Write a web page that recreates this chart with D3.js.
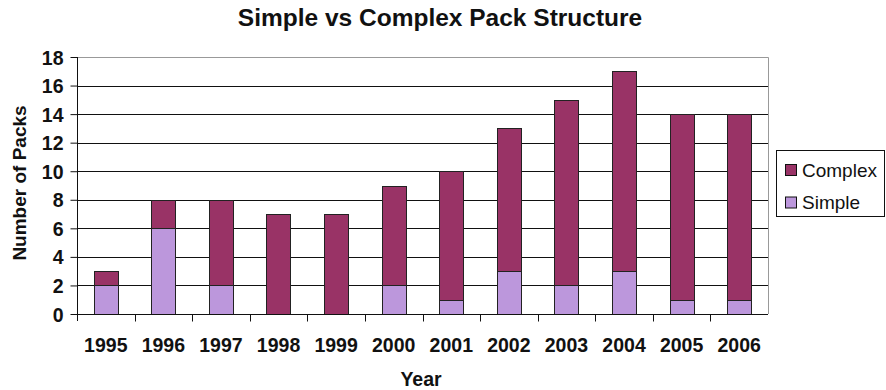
<!DOCTYPE html>
<html>
<head>
<meta charset="utf-8">
<script src="https://cdn.jsdelivr.net/npm/d3@7"></script>
<style>
  body { margin: 0; background: #fff; }
  svg text { font-family: "Liberation Sans", Arial, sans-serif; fill: #111; }
</style>
</head>
<body>
<svg id="chart" width="886" height="390"></svg>
<script>
// Pack counts per year, split by structure type
const years = ["1995","1996","1997","1998","1999","2000","2001","2002","2003","2004","2005","2006"];
const simple  = [2, 6, 2, 0, 0, 2, 1, 3, 2, 3, 1, 1];
const complex = [1, 2, 6, 7, 7, 7, 9, 10, 13, 14, 13, 13];
const yTicks = [0, 2, 4, 6, 8, 10, 12, 14, 16, 18];
const seriesNames = ["Simple", "Complex"];
const seriesColors = { Simple: "#bc97dc", Complex: "#993366" };

const svg = d3.select("#chart");
const margin = { left: 77, right: 118, top: 57, bottom: 76 };
const W = 886, H = 390;
const x0 = margin.left, x1 = W - margin.right, y0 = H - margin.bottom, y1 = margin.top;

const x = d3.scaleBand().domain(years).range([x0, x1]).paddingInner(0.58).paddingOuter(0.29);
const xb = d3.scaleBand().domain(years).range([x0, x1]);
const y = d3.scaleLinear().domain([0, 18]).range([y0, y1]);

// gridlines
svg.append("g").selectAll("line").data(yTicks.filter(t => t > 0 && t < 18)).join("line")
  .attr("x1", x0).attr("x2", x1)
  .attr("y1", d => Math.round(y(d)) + 0.5).attr("y2", d => Math.round(y(d)) + 0.5)
  .attr("stroke", "#111").attr("stroke-width", 1);

// plot frame (top and right)
svg.append("path")
  .attr("d", `M${x0},${Math.round(y1)+0.5}H${x1+0.5}V${y0}`)
  .attr("fill", "none").attr("stroke", "#999").attr("stroke-width", 1);

// stacked bars
const rows = years.map((yr, i) => ({ year: yr, Simple: simple[i], Complex: complex[i] }));
const stacked = d3.stack().keys(seriesNames)(rows);
svg.append("g").selectAll("g").data(stacked).join("g")
  .attr("fill", d => seriesColors[d.key])
  .selectAll("rect").data(d => d.filter(p => p[1] > p[0])).join("rect")
  .attr("x", d => Math.round(x(d.data.year)) + 0.5)
  .attr("width", Math.round(x.bandwidth()))
  .attr("y", d => Math.round(y(d[1])) + 0.5)
  .attr("height", d => Math.round(y(d[0])) - Math.round(y(d[1])))
  .attr("stroke", "#222").attr("stroke-width", 1);

// y axis
const yAxis = svg.append("g").attr("transform", `translate(${x0 + 0.5},0)`)
  .call(d3.axisLeft(y).tickValues(yTicks).tickSize(7).tickPadding(7).tickFormat(d3.format("d")));
yAxis.select(".domain").attr("stroke", "#111").attr("d", `M0,${y1}V${y0 + 7}`);
yAxis.selectAll(".tick line").attr("stroke", "#111");
yAxis.selectAll("text").attr("font-size", 19.5).attr("font-weight", "bold")
  .attr("font-family", null).attr("dy", "0.36em");

// x axis with ticks on category boundaries
const xg = svg.append("g").attr("transform", `translate(0,${Math.round(y0) + 0.5})`);
xg.append("line").attr("x1", x0).attr("x2", x1).attr("stroke", "#111");
xg.selectAll("line.b").data(years.slice(1)).join("line").attr("class", "b")
  .attr("x1", d => Math.round(xb(d)) + 0.5).attr("x2", d => Math.round(xb(d)) + 0.5)
  .attr("y1", 0).attr("y2", 7).attr("stroke", "#111");
xg.selectAll("text").data(years).join("text")
  .attr("x", d => xb(d) + xb.bandwidth() / 2).attr("y", 37)
  .attr("text-anchor", "middle").attr("font-size", 19.5).attr("font-weight", "bold").text(d => d);

// titles
svg.append("text").attr("x", 440).attr("y", 26).attr("text-anchor", "middle")
  .attr("font-size", 24.5).attr("font-weight", "bold").text("Simple vs Complex Pack Structure");
svg.append("text").attr("x", 421).attr("y", 386).attr("text-anchor", "middle")
  .attr("font-size", 19.5).attr("font-weight", "bold").text("Year");
svg.append("text").attr("transform", `translate(26,183) rotate(-90)`)
  .attr("text-anchor", "middle").attr("font-size", 19).attr("font-weight", "bold").text("Number of Packs");

// legend
const lg = svg.append("g");
lg.append("rect").attr("x", 776.5).attr("y", 150.5).attr("width", 108).attr("height", 66)
  .attr("fill", "#fff").attr("stroke", "#111");
const legendItems = ["Complex", "Simple"];
legendItems.forEach((k, i) => {
  const cy = 170 + i * 32.5;
  lg.append("rect").attr("x", 785.5).attr("y", cy - 5.5).attr("width", 11).attr("height", 11)
    .attr("fill", seriesColors[k]).attr("stroke", "#111");
  lg.append("text").attr("x", 802).attr("y", cy + 6.5)
    .attr("font-size", 19).text(k);
});
</script>
</body>
</html>
